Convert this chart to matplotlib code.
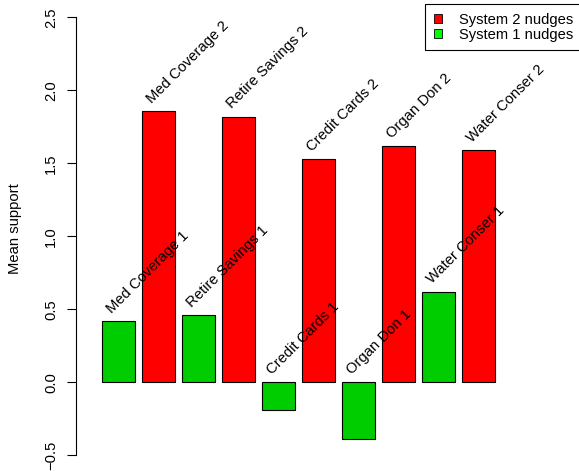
import matplotlib
matplotlib.use("Agg")
import matplotlib.pyplot as plt
from matplotlib.patches import Patch

plt.rcParams['font.family'] = ['Liberation Sans', 'DejaVu Sans']

# ---- data ----
labels = ["Med Coverage 1", "Med Coverage 2", "Retire Savings 1", "Retire Savings 2",
          "Credit Cards 1", "Credit Cards 2", "Organ Don 1", "Organ Don 2",
          "Water Conser 1", "Water Conser 2"]
values = [0.42, 1.86, 0.46, 1.82, -0.19, 1.53, -0.39, 1.62, 0.62, 1.59]
systems = [1, 2, 1, 2, 1, 2, 1, 2, 1, 2]
yticks = [-0.5, 0.0, 0.5, 1.0, 1.5, 2.0, 2.5]
legend_labels = ["System 2 nudges", "System 1 nudges"]

bar_colors = {1: "#00CD00", 2: "#FF0000"}
legend_colors = ["#FF0000", "#00FF00"]

W, H = 579, 471
fig = plt.figure(figsize=(W / 100, H / 100), dpi=100)
ax_left = 76
ax = fig.add_axes([ax_left / W, 0, (W - ax_left) / W, 1])

FS = 10.6  # ~14.7 px

centers = [0.7 + 1.2 * i for i in range(len(values))]
colors = [bar_colors[s] for s in systems]
ax.bar(centers, values, width=1.0, color=colors, edgecolor="black", linewidth=0.8, zorder=2)

for xc, v, lab in zip(centers, values, labels):
    ax.text(xc - 0.2, max(v, 0) + 0.05, lab, rotation=45, rotation_mode="anchor",
            ha="left", va="baseline", fontsize=FS, color="black", zorder=3)

px_per_unit_x = 100 / 3.0  # 33.33
x0 = 0.2 + (ax_left - 101.7) / px_per_unit_x
x1 = 0.2 + (W - 101.7) / px_per_unit_x
ax.set_xlim(x0, x1)
ax.set_ylim((382.3 - H) / 146.0, 382.3 / 146.0)

for s in ["top", "right", "bottom"]:
    ax.spines[s].set_visible(False)
ax.spines["left"].set_bounds(-0.5, 2.5)
ax.spines["left"].set_linewidth(0.8)
ax.set_xticks([])
ax.set_yticks(yticks)
ax.set_yticklabels([f"{t:.1f}".replace("-", "\u2212") for t in yticks], rotation=90,
                   va="center", fontsize=FS)
ax.tick_params(axis="y", length=6.5, width=0.8, pad=6.5)

fig.text(15 / W, 1 - 228.5 / H, "Mean support", rotation=90, ha="center", va="center",
         fontsize=FS)

handles = [Patch(facecolor=c, edgecolor="black", linewidth=0.6) for c in legend_colors]
leg = fig.legend(handles, legend_labels, loc="upper left",
                 bbox_to_anchor=(425 / W, 1 - 4 / H), bbox_transform=fig.transFigure,
                 fontsize=FS, frameon=True, fancybox=False, shadow=False,
                 borderpad=0.6, handlelength=0.55, handleheight=0.55,
                 handletextpad=1.15, labelspacing=0.05, borderaxespad=0)
leg.get_frame().set_edgecolor("black")
leg.get_frame().set_linewidth(0.8)
leg.get_frame().set_alpha(1)

fig.savefig("out.png", dpi=100)
